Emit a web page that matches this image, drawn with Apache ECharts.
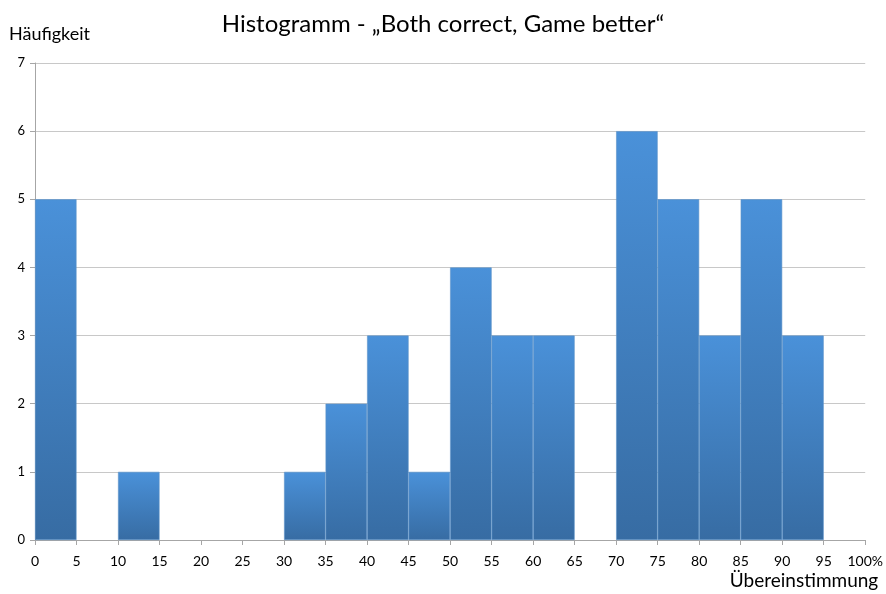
<!DOCTYPE html>
<html><head><meta charset="utf-8">
<script src="https://cdn.jsdelivr.net/npm/echarts@6/dist/echarts.min.js"></script>
<style>html,body{margin:0;padding:0;background:#fff}#c{width:886px;height:594px}</style>
</head><body><div id="c"></div>
<script>
var binLabels = ['0-5','5-10','10-15','15-20','20-25','25-30','30-35','35-40','40-45','45-50','50-55','55-60','60-65','65-70','70-75','75-80','80-85','85-90','90-95','95-100'];
var counts = [5,0,1,0,0,0,1,2,3,1,4,3,3,0,6,5,3,5,3,0];
var titleText = 'Histogramm - \u201EBoth correct, Game better\u201C';
var yName = 'Häufigkeit';
var xName = 'Übereinstimmung';
var FONT = 'Lato';
var chart = echarts.init(document.getElementById('c'));
chart.setOption({
  animation:false,
  title:{text:titleText,left:'center',top:7,textStyle:{fontFamily:FONT,fontSize:24,fontWeight:'normal',color:'#000'}},
  grid:{left:35,right:18,top:63,bottom:54,containLabel:false},
  xAxis:[{
    type:'value',min:0,max:100,interval:5,position:'bottom',
    axisLine:{show:true,lineStyle:{color:'#a6a6a6'}},
    axisTick:{show:true,length:5,lineStyle:{color:'#a6a6a6'}},
    splitLine:{show:false},
    axisLabel:{color:'#000',fontFamily:FONT,fontSize:14,margin:14,formatter:function(v){return v===100?'100%':String(v);}},
    name:xName,nameLocation:'end',nameGap:0,
    nameTextStyle:{fontFamily:FONT,fontSize:19,color:'#000',align:'right',verticalAlign:'top',padding:[31,-13,0,0]}
  },{
    type:'category',data:binLabels,show:false,boundaryGap:true
  }],
  yAxis:{
    type:'value',min:0,max:7,interval:1,
    axisLine:{show:true,lineStyle:{color:'#a6a6a6'}},
    axisTick:{show:true,length:5,lineStyle:{color:'#a6a6a6'}},
    splitLine:{show:true,lineStyle:{color:'#c8c8c8'}},
    axisLabel:{color:'#000',fontFamily:FONT,fontSize:13,margin:10},
    name:yName,nameLocation:'end',nameGap:20,
    nameTextStyle:{fontFamily:FONT,fontSize:18,color:'#000',align:'left',padding:[0,0,0,-26]}
  },
  series:[{
    type:'bar',xAxisIndex:1,
    data:counts.map(function(v){return v===0?'-':v;}),
    barWidth:'100%',barCategoryGap:'0%',
    itemStyle:{
      color:new echarts.graphic.LinearGradient(0,0,0,1,[{offset:0,color:'#4a91d9'},{offset:1,color:'#376ca3'}]),
      borderColor:'#5e93c9',borderWidth:0.6
    }
  }]
});
</script></body></html>
